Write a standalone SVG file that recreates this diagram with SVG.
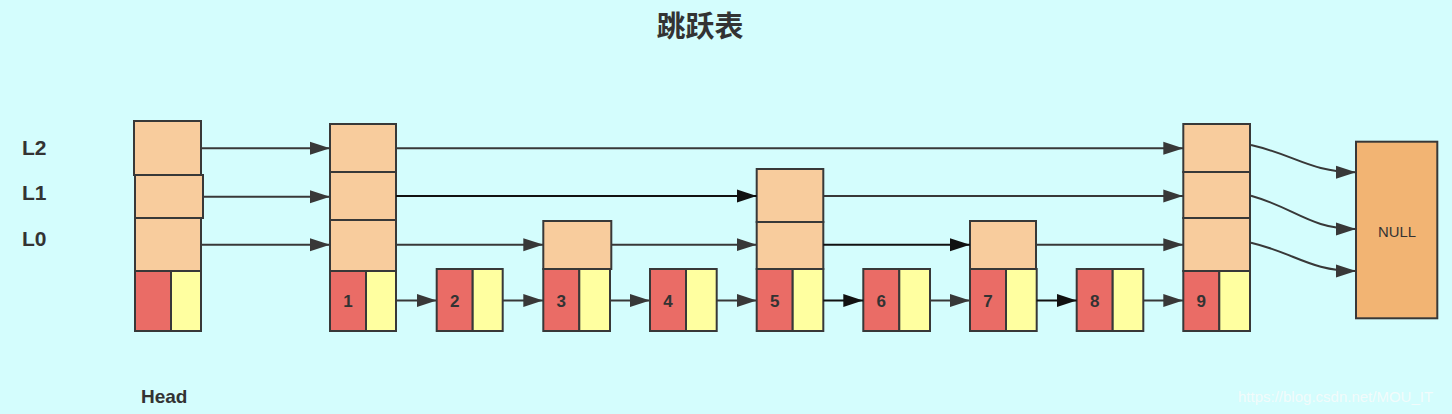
<svg xmlns="http://www.w3.org/2000/svg" width="1452" height="414" viewBox="0 0 1452 414">
<style>
.o{fill:#f8cc9d;stroke:#383838;stroke-width:2}
.r{fill:#ea6c66;stroke:#383838;stroke-width:2}
.y{fill:#ffffa0;stroke:#383838;stroke-width:2}
.n{fill:#f2b473;stroke:#383838;stroke-width:2}
.lbl{font-family:"Liberation Sans",Arial,sans-serif;font-weight:bold;fill:#333}
.num{font-family:"Liberation Sans",Arial,sans-serif;font-weight:bold;font-size:17px;fill:#333;text-anchor:middle}
.e{fill:none;stroke:#383838;stroke-width:2;marker-end:url(#ah)}
.k{fill:none;stroke:#111;stroke-width:2;marker-end:url(#ak)}
</style>
<defs>
<marker id="ah" markerUnits="userSpaceOnUse" markerWidth="20" markerHeight="14" refX="20" refY="7" orient="auto"><path d="M0 0.5 L20 7 L0 13.5 z" fill="#383838"/></marker>
<marker id="ak" markerUnits="userSpaceOnUse" markerWidth="20" markerHeight="14" refX="20" refY="7" orient="auto"><path d="M0 0.5 L20 7 L0 13.5 z" fill="#111"/></marker>
</defs>
<rect width="1452" height="414" fill="#d4fdfd"/>
<text x="700" y="37" text-anchor="middle" font-family="'Noto Sans CJK SC',sans-serif" font-weight="bold" font-size="29" fill="#333">跳跃表</text>
<text class="lbl" x="22" y="155" font-size="21">L2</text>
<text class="lbl" x="22" y="200" font-size="21">L1</text>
<text class="lbl" x="22" y="246" font-size="21">L0</text>
<text class="lbl" x="141" y="403" font-size="19">Head</text>
<text x="1238" y="402" font-family="'Liberation Sans',Arial,sans-serif" font-size="15" fill="#f2fbfb">https://blog.csdn.net/MOU_IT</text>

<g id="head">
<rect class="o" x="134" y="121" width="67" height="54"/>
<rect class="o" x="135" y="175" width="68" height="43"/>
<rect class="o" x="135" y="218" width="66" height="53"/>
<rect class="r" x="135" y="271" width="36" height="60"/>
<rect class="y" x="171" y="271" width="30" height="60"/>
</g>
<g id="node1">
<rect class="o" x="330" y="124" width="66" height="48"/>
<rect class="o" x="330" y="172" width="66" height="48"/>
<rect class="o" x="330" y="220" width="66" height="51"/>
<rect class="r" x="330" y="271" width="36" height="60"/>
<rect class="y" x="366" y="271" width="30" height="60"/>
<text class="num" x="348" y="306.5">1</text>
</g>
<g id="node2">
<rect class="r" x="436.7" y="269" width="36" height="62"/>
<rect class="y" x="472.7" y="269" width="30" height="62"/>
<text class="num" x="454.7" y="306.5">2</text>
</g>
<g id="node3">
<rect class="o" x="543.3" y="221" width="68" height="48"/>
<rect class="r" x="543.3" y="269" width="36" height="62"/>
<rect class="y" x="579.3" y="269" width="30.7" height="62"/>
<text class="num" x="561.3" y="306.5">3</text>
</g>
<g id="node4">
<rect class="r" x="650" y="269" width="36" height="62"/>
<rect class="y" x="686" y="269" width="30.7" height="62"/>
<text class="num" x="668" y="306.5">4</text>
</g>
<g id="node5">
<rect class="o" x="756.7" y="169" width="66.6" height="53"/>
<rect class="o" x="756.7" y="222" width="66.6" height="47"/>
<rect class="r" x="756.7" y="269" width="36" height="62"/>
<rect class="y" x="792.7" y="269" width="30.6" height="62"/>
<text class="num" x="774.7" y="306.5">5</text>
</g>
<g id="node6">
<rect class="r" x="863.3" y="269" width="36" height="62"/>
<rect class="y" x="899.3" y="269" width="30.7" height="62"/>
<text class="num" x="881.3" y="306.5">6</text>
</g>
<g id="node7">
<rect class="o" x="970" y="221" width="66" height="48"/>
<rect class="r" x="970" y="269" width="36" height="62"/>
<rect class="y" x="1006" y="269" width="30.7" height="62"/>
<text class="num" x="988" y="306.5">7</text>
</g>
<g id="node8">
<rect class="r" x="1076.7" y="269" width="36" height="62"/>
<rect class="y" x="1112.7" y="269" width="30.6" height="62"/>
<text class="num" x="1094.7" y="306.5">8</text>
</g>
<g id="node9">
<rect class="o" x="1183.3" y="124" width="66.7" height="48"/>
<rect class="o" x="1183.3" y="172" width="66.7" height="46"/>
<rect class="o" x="1183.3" y="218" width="66.7" height="53"/>
<rect class="r" x="1183.3" y="271" width="36" height="60"/>
<rect class="y" x="1219.3" y="271" width="30.7" height="60"/>
<text class="num" x="1201.3" y="306.5">9</text>
</g>
<g id="null">
<rect class="n" x="1356" y="141.7" width="81.3" height="176.6"/>
<text x="1397" y="237" text-anchor="middle" font-family="'Liberation Sans',Arial,sans-serif" font-size="15" fill="#333" textLength="38" lengthAdjust="spacingAndGlyphs">NULL</text>
</g>

<g id="connectors">
<path class="e" d="M201 148.3 H330"/>
<path class="e" d="M396 148.3 H1183.3"/>
<path class="e" d="M203 196.7 H330"/>
<path class="k" d="M396 196 H756.7"/>
<path class="e" d="M823.3 196 H1183.3"/>
<path class="e" d="M201 244.7 H330"/>
<path class="e" d="M396 244.7 H543.3"/>
<path class="e" d="M611.3 244.7 H756.7"/>
<path class="k" d="M823.3 244.7 H970"/>
<path class="e" d="M1036 244.7 H1183.3"/>
<path class="e" d="M396 300.5 H436.7"/>
<path class="e" d="M502.7 300.5 H543.3"/>
<path class="e" d="M610 300.5 H650"/>
<path class="e" d="M716.7 300.5 H756.7"/>
<path class="k" d="M823.3 300.5 H863.3"/>
<path class="e" d="M930 300.5 H970"/>
<path class="k" d="M1036.7 300.5 H1076.7"/>
<path class="e" d="M1143.3 300.5 H1183.3"/>
<path class="e" d="M1251 145 C1295 155 1310 172 1356 172.3"/>
<path class="e" d="M1251 195.7 C1295 208 1310 229 1356 229"/>
<path class="e" d="M1251 242.7 C1295 253 1310 271 1356 271"/>
</g>
</svg>
